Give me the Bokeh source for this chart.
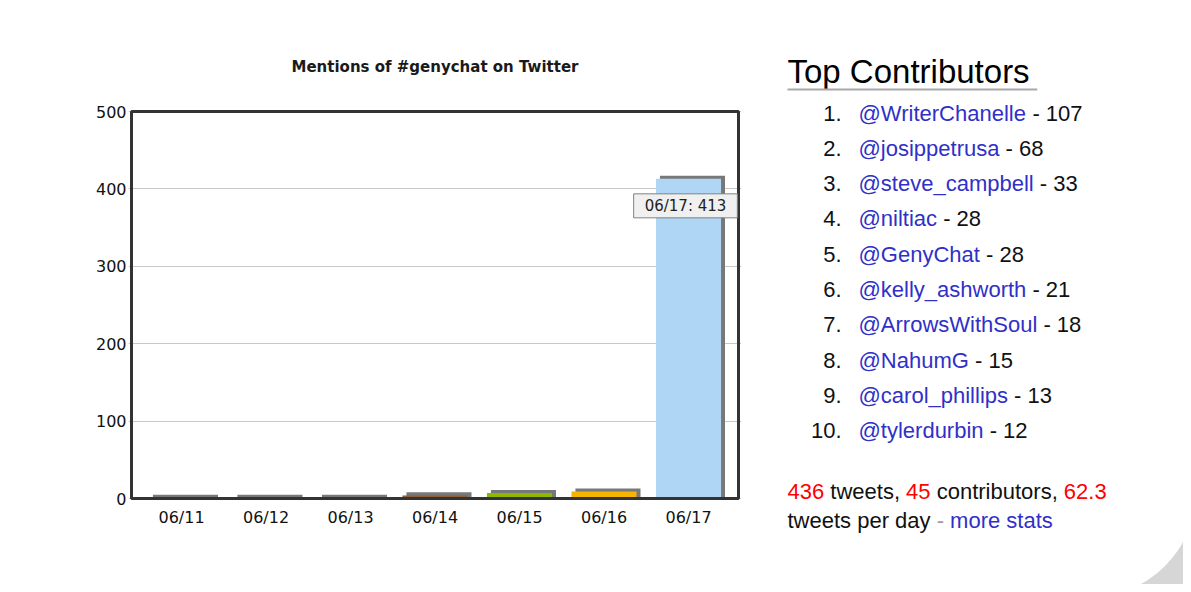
from bokeh.plotting import figure
from bokeh.models import Range1d, FactorRange, ColumnDataSource, Label, FixedTicker
from bokeh.layouts import row
from bokeh.transform import dodge
from bokeh.core.properties import value
from bokeh.embed import file_html
from bokeh.resources import INLINE

# ---------------- data ----------------
dates = ["06/11", "06/12", "06/13", "06/14", "06/15", "06/16", "06/17"]
mentions = [1, 1, 1, 4, 7, 9, 413]
bar_colors = ["#8c8c8c", "#a3a3a3", "#b3b3b3", "#8b5e3c", "#8cb800", "#f5b400", "#b0d6f5"]
y_ticks = [0, 100, 200, 300, 400, 500]
chart_title = "Mentions of #genychat on Twitter"

contrib_names = ["@WriterChanelle", "@josippetrusa", "@steve_campbell", "@niltiac",
                 "@GenyChat", "@kelly_ashworth", "@ArrowsWithSoul", "@NahumG",
                 "@carol_phillips", "@tylerdurbin"]
contrib_counts = [107, 68, 33, 28, 28, 21, 18, 15, 13, 12]
total_tweets = 436
total_contributors = 45
tweets_per_day = 62.3

# ---------------- helpers ----------------
ARIAL = {' ': 278, '!': 278, '-': 333, '.': 278, ',': 278, ':': 278, '@': 1015, '_': 556,
         'A': 667, 'B': 667, 'C': 722, 'D': 722, 'E': 667, 'F': 611, 'G': 778, 'H': 722,
         'I': 278, 'J': 500, 'K': 667, 'L': 556, 'M': 833, 'N': 722, 'O': 778, 'P': 667,
         'Q': 778, 'R': 722, 'S': 667, 'T': 611, 'U': 722, 'V': 667, 'W': 944, 'X': 667,
         'Y': 667, 'Z': 611,
         'a': 556, 'b': 556, 'c': 500, 'd': 556, 'e': 556, 'f': 278, 'g': 556, 'h': 556,
         'i': 222, 'j': 222, 'k': 500, 'l': 222, 'm': 833, 'n': 556, 'o': 556, 'p': 556,
         'q': 556, 'r': 333, 's': 500, 't': 278, 'u': 556, 'v': 500, 'w': 722, 'x': 500,
         'y': 500, 'z': 500}
for d in "0123456789":
    ARIAL[d] = 556


def tw(s, size):
    return sum(ARIAL.get(c, 556) for c in s) * size / 1000.0


# ---------------- layout constants (pixels) ----------------
H = 584
TOTAL_W = 1183
BOX_L, BOX_R, BOX_T, BOX_B = 131, 738, 111, 498   # chart box
PAD = 3
CAT_W = 84.5                                      # px per category
W1 = BOX_R + PAD
W2 = TOTAL_W - W1
y_max = y_ticks[-1]
k = (BOX_B - BOX_T) / y_max                       # px per unit
inset = ((BOX_R - BOX_L) - len(dates) * CAT_W) / 2 / CAT_W   # in category units

# ---------------- chart ----------------
src = ColumnDataSource(dict(date=dates, mentions=mentions, color=bar_colors,
                            shadow_top=[v + 4 for v in mentions]))

p = figure(width=W1, height=H,
           x_range=FactorRange(*dates, range_padding=inset + PAD / CAT_W,
                               range_padding_units="absolute"),
           y_range=Range1d(-(H - BOX_B) / k, y_max + BOX_T / k),
           x_axis_location=None,
           output_backend="svg", toolbar_location=None,
           min_border_left=BOX_L - PAD, min_border_right=0, min_border_top=0,
           min_border_bottom=0)

p.vbar(x=dodge("date", 0.047, range=p.x_range), top="shadow_top", width=0.77,
       fill_color="#787878", line_color=None, source=src)
p.vbar(x="date", top="mentions", width=0.77, fill_color="color", line_color=None,
       source=src)
# chart box
p.quad(left=[-inset], right=[len(dates) + inset], bottom=[0], top=[y_max],
       fill_color=None, line_color="#333333", line_width=3)

# title and category labels, positioned through the chart scales
p.text(x=[len(dates) / 2], y=[y_max + (BOX_T - 66) / k], text=[chart_title],
       text_font=value("DejaVu Sans"), text_font_size="15px", text_font_style="bold",
       text_color="#1a1a1a", text_align="center", text_baseline="middle")
p.text(x=dates, y=[-(517 - BOX_B) / k] * len(dates), text=dates,
       text_font=value("DejaVu Sans"), text_font_size="16px", text_color="#111111",
       text_align="center", text_baseline="middle")

p.yaxis.ticker = FixedTicker(ticks=y_ticks)
p.yaxis.axis_line_color = None
p.yaxis.major_tick_line_color = None
p.yaxis.minor_tick_line_color = None
p.yaxis.major_tick_out = 0
p.yaxis.major_tick_in = 0
p.yaxis.major_label_text_font = "DejaVu Sans"
p.yaxis.major_label_text_font_size = "16px"
p.yaxis.major_label_text_color = "#111111"
p.yaxis.major_label_standoff = 2
p.ygrid.ticker = FixedTicker(ticks=y_ticks)
p.ygrid.grid_line_color = "#c8c8c8"
p.xgrid.grid_line_color = None
p.outline_line_color = None
p.background_fill_color = "white"
p.border_fill_color = "white"

# hover-style tooltip for the last bar
last_x = dates.index(dates[-1]) + 0.5
tip = Label(x=last_x, y=mentions[-1], text=f"{dates[-1]}: {mentions[-1]}",
            text_align="center", text_baseline="middle", y_offset=-27, x_offset=-3,
            text_font="DejaVu Sans", text_font_size="15px", text_color="#222222",
            background_fill_color="#f0f0f0", border_line_color="#808080",
            border_line_width=1, padding=(11, 3))
p.add_layout(tip)

# ---------------- contributors panel ----------------
q = figure(width=W2, height=H, x_range=Range1d(W1, W1 + W2), y_range=Range1d(H, 0),
           output_backend="svg", toolbar_location=None, min_border=0,
           x_axis_type=None, y_axis_type=None)
q.grid.visible = False
q.outline_line_color = None
q.background_fill_color = "white"
q.border_fill_color = "white"

# rounded card corner (decoration)
q.quad(left=[1091], right=[W1 + W2], top=[492], bottom=[H], fill_color="#d6d6d6",
       line_color=None)
q.circle(x=[1091], y=[492], radius=104, fill_color="white", line_color=None)

FONT = value("Liberation Sans")
head = "Top Contributors"
hx, hs = 787, 33
q.text(x=[hx], y=[71], text=[head], text_font=FONT, text_font_size=f"{hs}px",
       text_color="#000000", text_baseline="middle")
q.segment(x0=[hx], y0=[89], x1=[hx + tw(head, hs) + 4], y1=[89],
          line_color="#a8a8a8", line_width=2)

ls = 22
n = len(contrib_names)
row_y = [112.5 + i * 35.33 for i in range(n)]
q.text(x=[841] * n, y=row_y, text=[f"{i + 1}." for i in range(n)],
       text_font=FONT, text_font_size=f"{ls}px", text_color="#111111",
       text_align="right", text_baseline="middle")
q.text(x=[858] * n, y=row_y, text=contrib_names,
       text_font=FONT, text_font_size=f"{ls}px", text_color="#3030c8",
       text_baseline="middle")
q.text(x=[858 + tw(nm + " ", ls) for nm in contrib_names], y=row_y,
       text=[f"- {c}" for c in contrib_counts],
       text_font=FONT, text_font_size=f"{ls}px", text_color="#111111",
       text_baseline="middle")

ss = 22
red, black, blue = "#ff0000", "#111111", "#3030c8"
seg1 = [(f"{total_tweets}", red), ("tweets,", black), (f"{total_contributors}", red),
        ("contributors,", black), (f"{tweets_per_day}", red)]
seg2 = [("tweets per day", black), ("-", "#9a9a9a"), ("more stats", blue)]
xs, ys, ts, cs = [], [], [], []
for segs, yy in ((seg1, 491), (seg2, 520)):
    cx = 787
    for t, c in segs:
        xs.append(cx)
        ys.append(yy)
        ts.append(t)
        cs.append(c)
        cx += tw(t + " ", ss)
q.text(x=xs, y=ys, text=ts, text_color=cs, text_font=FONT,
       text_font_size=f"{ss}px", text_baseline="middle")

layout = row(p, q)
open("out.html", "w").write(file_html(layout, INLINE))
